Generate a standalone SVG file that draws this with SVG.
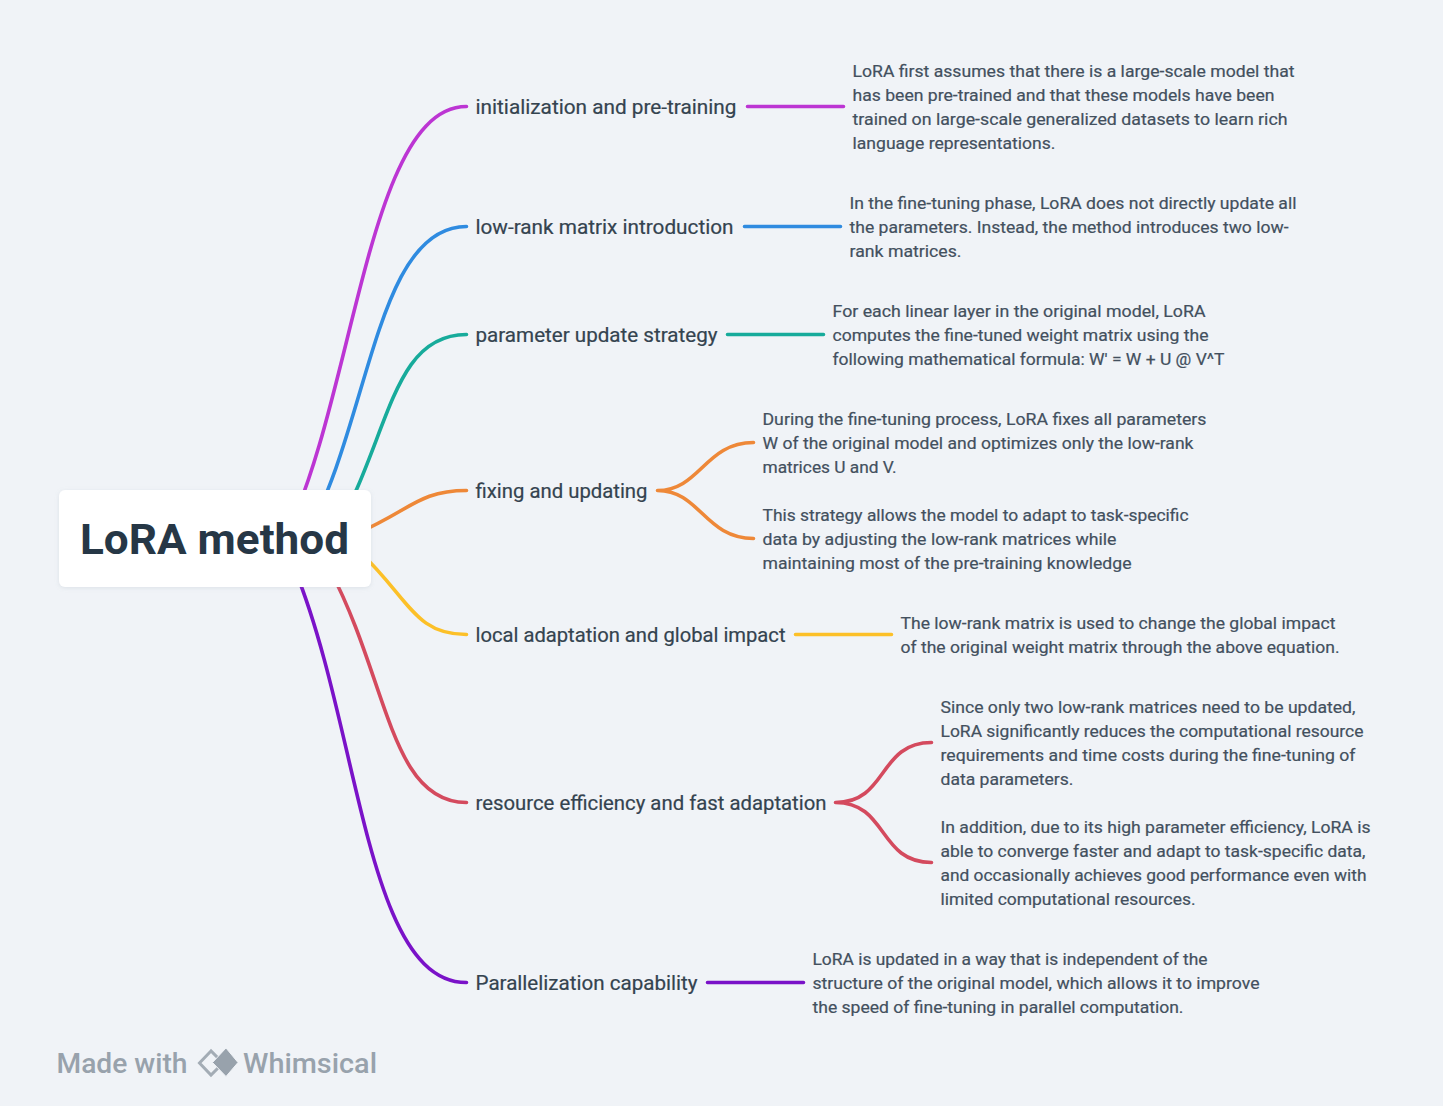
<svg xmlns="http://www.w3.org/2000/svg" width="1443" height="1106" viewBox="0 0 1443 1106">
<defs>
<style>
text{font-family:"Roboto","Noto Sans",sans-serif}
.c{fill:none;stroke-width:3.6;stroke-linecap:round}
.b{font-size:20px;fill:#34434f;stroke:#34434f;stroke-width:.2px}
.d{font-size:16.5px;fill:#43505e;stroke:#43505e;stroke-width:.2px}
.m{font-size:27px;fill:#98a2ac;font-weight:500}
</style>
<filter id="s" x="-10%" y="-10%" width="120%" height="125%"><feDropShadow dx="0" dy="1" stdDeviation="2" flood-color="#8a99a8" flood-opacity=".2"/></filter>
</defs>
<rect width="1443" height="1106" fill="#f0f3f7"/>
<g id="connectors">
<path class="c" stroke="#bc35d3" d="M285 538C355 395 368 106.500 466.500 106.500M747.500 106.500H843.500"/>
<path class="c" stroke="#2f8be0" d="M305 538C370 425 375 226.500 466.500 226.500M744.500 226.500H840.500"/>
<path class="c" stroke="#17ab9b" d="M332 538C390 440 390 334.500 466.500 334.500M727.500 334.500H823.500"/>
<path class="c" stroke="#ee8838" d="M360 532C410 510 420 490.500 466.500 490.500M657.500 490.500C700 490.500 705 442.500 753.500 442.500M657.500 490.500C700 490.500 705 538.500 753.500 538.500"/>
<path class="c" stroke="#fcc028" d="M360 552C410 600 415 634.500 466.500 634.500M795.500 634.500H891.500"/>
<path class="c" stroke="#d44a5e" d="M330 570C388 680 390 802.500 466.500 802.500M835.500 802.500C888 802.500 878 742.500 931.500 742.500M835.500 802.500C888 802.500 878 862.500 931.500 862.500"/>
<path class="c" stroke="#7a12c8" d="M295 570C360 730 366 982.500 466.500 982.500M707.500 982.500H803.500"/>
</g>
<g id="root"><rect x="59" y="490" width="312" height="97" rx="6" fill="#fff" filter="url(#s)"/><text x="80" y="554" font-size="42" font-weight="700" fill="#263746" textLength="269" lengthAdjust="spacingAndGlyphs">LoRA method</text></g>
<g id="n1"><text class="b" x="475.500" y="113.500" textLength="261" lengthAdjust="spacingAndGlyphs">initialization and pre-training</text>
<g class="d"><text x="852.500" y="76.500" textLength="442" lengthAdjust="spacingAndGlyphs">LoRA first assumes that there is a large-scale model that</text><text x="852.500" y="100.500" textLength="422" lengthAdjust="spacingAndGlyphs">has been pre-trained and that these models have been</text><text x="852.500" y="124.500" textLength="435" lengthAdjust="spacingAndGlyphs">trained on large-scale generalized datasets to learn rich</text><text x="852.500" y="148.500" textLength="203" lengthAdjust="spacingAndGlyphs">language representations.</text></g></g>
<g id="n2"><text class="b" x="475.500" y="233.500" textLength="258" lengthAdjust="spacingAndGlyphs">low-rank matrix introduction</text>
<g class="d"><text x="849.500" y="208.500" textLength="447" lengthAdjust="spacingAndGlyphs">In the fine-tuning phase, LoRA does not directly update all</text><text x="849.500" y="232.500" textLength="439" lengthAdjust="spacingAndGlyphs">the parameters. Instead, the method introduces two low-</text><text x="849.500" y="256.500" textLength="112" lengthAdjust="spacingAndGlyphs">rank matrices.</text></g></g>
<g id="n3"><text class="b" x="475.500" y="341.500" textLength="242" lengthAdjust="spacingAndGlyphs">parameter update strategy</text>
<g class="d"><text x="832.500" y="316.500" textLength="373" lengthAdjust="spacingAndGlyphs">For each linear layer in the original model, LoRA</text><text x="832.500" y="340.500" textLength="376" lengthAdjust="spacingAndGlyphs">computes the fine-tuned weight matrix using the</text><text x="832.500" y="364.500" textLength="392" lengthAdjust="spacingAndGlyphs">following mathematical formula: W' = W + U @ V^T</text></g></g>
<g id="n4"><text class="b" x="475.500" y="497.500" textLength="172" lengthAdjust="spacingAndGlyphs">fixing and updating</text>
<g class="d"><text x="762.500" y="424.500" textLength="444" lengthAdjust="spacingAndGlyphs">During the fine-tuning process, LoRA fixes all parameters</text><text x="762.500" y="448.500" textLength="431" lengthAdjust="spacingAndGlyphs">W of the original model and optimizes only the low-rank</text><text x="762.500" y="472.500" textLength="134" lengthAdjust="spacingAndGlyphs">matrices U and V.</text><text x="762.500" y="520.500" textLength="426" lengthAdjust="spacingAndGlyphs">This strategy allows the model to adapt to task-specific</text><text x="762.500" y="544.500" textLength="354" lengthAdjust="spacingAndGlyphs">data by adjusting the low-rank matrices while</text><text x="762.500" y="568.500" textLength="369" lengthAdjust="spacingAndGlyphs">maintaining most of the pre-training knowledge</text></g></g>
<g id="n5"><text class="b" x="475.500" y="641.500" textLength="310" lengthAdjust="spacingAndGlyphs">local adaptation and global impact</text>
<g class="d"><text x="900.500" y="628.500" textLength="435" lengthAdjust="spacingAndGlyphs">The low-rank matrix is used to change the global impact</text><text x="900.500" y="652.500" textLength="439" lengthAdjust="spacingAndGlyphs">of the original weight matrix through the above equation.</text></g></g>
<g id="n6"><text class="b" x="475.500" y="809.500" textLength="351" lengthAdjust="spacingAndGlyphs">resource efficiency and fast adaptation</text>
<g class="d"><text x="940.500" y="712.500" textLength="415" lengthAdjust="spacingAndGlyphs">Since only two low-rank matrices need to be updated,</text><text x="940.500" y="736.500" textLength="423" lengthAdjust="spacingAndGlyphs">LoRA significantly reduces the computational resource</text><text x="940.500" y="760.500" textLength="415" lengthAdjust="spacingAndGlyphs">requirements and time costs during the fine-tuning of</text><text x="940.500" y="784.500" textLength="133" lengthAdjust="spacingAndGlyphs">data parameters.</text><text x="940.500" y="832.500" textLength="430" lengthAdjust="spacingAndGlyphs">In addition, due to its high parameter efficiency, LoRA is</text><text x="940.500" y="856.500" textLength="425" lengthAdjust="spacingAndGlyphs">able to converge faster and adapt to task-specific data,</text><text x="940.500" y="880.500" textLength="426" lengthAdjust="spacingAndGlyphs">and occasionally achieves good performance even with</text><text x="940.500" y="904.500" textLength="255" lengthAdjust="spacingAndGlyphs">limited computational resources.</text></g></g>
<g id="n7"><text class="b" x="475.500" y="989.500" textLength="222" lengthAdjust="spacingAndGlyphs">Parallelization capability</text>
<g class="d"><text x="812.500" y="964.500" textLength="395" lengthAdjust="spacingAndGlyphs">LoRA is updated in a way that is independent of the</text><text x="812.500" y="988.500" textLength="447" lengthAdjust="spacingAndGlyphs">structure of the original model, which allows it to improve</text><text x="812.500" y="1012.500" textLength="371" lengthAdjust="spacingAndGlyphs">the speed of fine-tuning in parallel computation.</text></g></g>
<g id="watermark"><text class="m" x="56.500" y="1073" textLength="131" lengthAdjust="spacingAndGlyphs">Made with</text><path d="M211 1051L199.500 1063L211 1075L223 1063Z" fill="none" stroke="#a3acb5" stroke-width="3"/><path d="M226 1048L238 1062.500L226 1076.500L212.500 1062.500Z" fill="#98a2ac" stroke="#f0f3f7" stroke-width="1"/><text class="m" x="243" y="1073" textLength="134" lengthAdjust="spacingAndGlyphs">Whimsical</text></g>
</svg>
